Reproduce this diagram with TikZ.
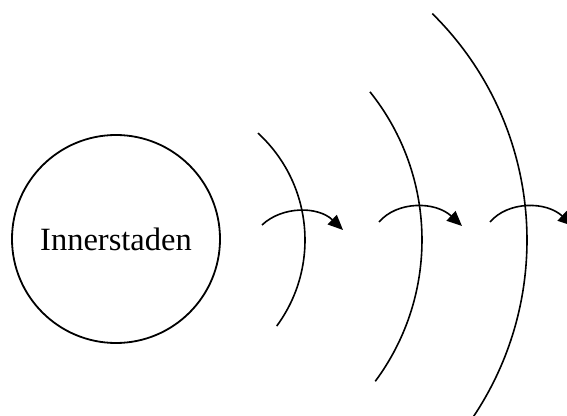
\documentclass[tikz,border=0pt]{standalone}
\usepackage{fontspec}
\setmainfont{Liberation Serif}
\usetikzlibrary{arrows.meta}
\tikzset{
  ring/.style={draw, line width=1.8pt},
  wave/.style={line width=1.6pt},
  flow/.style={line width=1.6pt, -{Triangle[length=15pt,width=13pt]}}
}
\begin{document}
\begin{tikzpicture}[x=1pt,y=1pt]
\useasboundingbox (0,0) rectangle (567,415);
\clip (0,0) rectangle (567,415);
\node[ring, circle, minimum size=208pt, inner sep=0pt,
      font=\fontsize{32.5}{38}\selectfont] (city) at (116,176) {Innerstaden};
% waves
\draw[wave] (160,175) ++(47.5:145) arc[start angle=47.5, end angle=-36.4, radius=145];
\draw[wave] (185,175) ++(38.7:237) arc[start angle=38.7, end angle=-36.6, radius=237];
\draw[wave] (209,175) ++(45.4:318) arc[start angle=45.4, end angle=-36, radius=318];
% arrows
\coordinate (a1s) at (262,190); \coordinate (a1e) at (343,185);
\coordinate (a2s) at (379,193); \coordinate (a2e) at (462,189);
\coordinate (a3s) at (490,193); \coordinate (a3e) at (573,189);
\draw[flow] (a1s) .. controls (282,209) and (318,209) .. (a1e);
\draw[flow] (a2s) .. controls (397,214) and (435,214) .. (a2e);
\draw[flow] (a3s) .. controls (508,214) and (546,214) .. (a3e);
\end{tikzpicture}
\end{document}
